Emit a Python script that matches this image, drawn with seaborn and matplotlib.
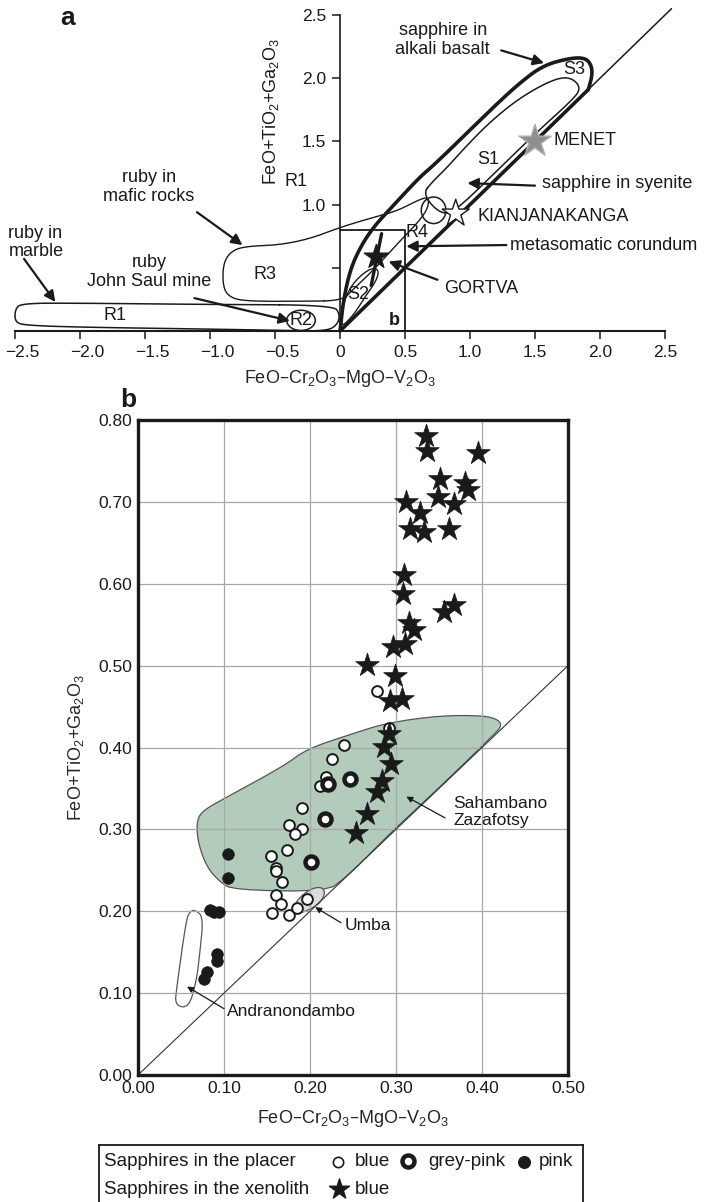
import numpy as np
import pandas as pd
import matplotlib
matplotlib.use("Agg")
import matplotlib.pyplot as plt
from matplotlib.patches import Ellipse, Polygon
from matplotlib.transforms import ScaledTranslation
import seaborn as sns

# ---- panel b data ----
star_x = [0.335, 0.336, 0.395, 0.351, 0.380, 0.384, 0.312, 0.349, 0.367, 0.328,
          0.316, 0.332, 0.362, 0.309, 0.308, 0.356, 0.367, 0.315, 0.321, 0.297,
          0.310, 0.266, 0.299, 0.293, 0.307, 0.292, 0.286, 0.294, 0.284, 0.278,
          0.266, 0.253]
star_y = [0.780, 0.762, 0.760, 0.728, 0.723, 0.714, 0.700, 0.706, 0.697, 0.686,
          0.667, 0.663, 0.667, 0.611, 0.587, 0.565, 0.574, 0.552, 0.543, 0.523,
          0.527, 0.501, 0.487, 0.457, 0.459, 0.416, 0.401, 0.380, 0.359, 0.346,
          0.319, 0.296]

blue_x = [0.278, 0.292, 0.239, 0.226, 0.219, 0.212, 0.191, 0.176, 0.191, 0.183,
          0.173, 0.155, 0.161, 0.161, 0.168, 0.160, 0.166, 0.156, 0.176, 0.185,
          0.197]
blue_y = [0.469, 0.424, 0.403, 0.386, 0.364, 0.353, 0.326, 0.305, 0.301, 0.294,
          0.275, 0.267, 0.253, 0.249, 0.236, 0.220, 0.209, 0.198, 0.195, 0.204,
          0.215]

greypink_x = [0.221, 0.247, 0.217, 0.201]
greypink_y = [0.356, 0.361, 0.313, 0.260]

pink_x = [0.105, 0.105, 0.084, 0.088, 0.094, 0.0915, 0.0915, 0.080, 0.077]
pink_y = [0.270, 0.241, 0.202, 0.199, 0.199, 0.148, 0.139, 0.126, 0.117]

# fields in panel b
sahambano_x = [0.068, 0.070, 0.080, 0.095, 0.111, 0.219, 0.240,
               0.262, 0.295, 0.335, 0.375, 0.412, 0.423, 0.419, 0.402, 0.351,
               0.289, 0.247, 0.196, 0.169, 0.099, 0.074]
sahambano_y = [0.308, 0.283, 0.254, 0.236, 0.226, 0.224, 0.240,
               0.262, 0.297, 0.336, 0.376, 0.414, 0.426, 0.434, 0.439, 0.439,
               0.430, 0.416, 0.398, 0.377, 0.337, 0.322]
umba_x = [0.179, 0.186, 0.200, 0.213, 0.218, 0.212, 0.198, 0.184]
umba_y = [0.201, 0.215, 0.227, 0.230, 0.223, 0.210, 0.201, 0.197]
andra_x = [0.066, 0.076, 0.072, 0.068, 0.059, 0.043, 0.045, 0.056, 0.060]
andra_y = [0.202, 0.193, 0.150, 0.115, 0.082, 0.085, 0.107, 0.189, 0.199]

# ---- panel a data ----
ref_names = ["GORTVA", "KIANJANAKANGA", "MENET"]
ref_x = [0.28, 0.89, 1.50]
ref_y = [0.585, 0.93, 1.50]
ref_face = ["#1a1a1a", "white", "#8f8f8f"]
ref_edge = ["#1a1a1a", "#1a1a1a", "#b0b0b0"]
ref_size = [330, 420, 600]

r1_field = [(-0.05, 0.205), (-1.0, 0.21), (-2.0, 0.22), (-2.45, 0.22), (-2.5, 0.17),
            (-2.5, 0.07), (-2.42, 0.045), (-2.0, 0.03), (-1.0, 0.015), (-0.4, 0.004),
            (-0.1, 0.0), (-0.02, 0.05), (0.0, 0.13)]
r3_field = [(0.02, 0.24), (-0.3, 0.235), (-0.7, 0.235), (-0.84, 0.26), (-0.9, 0.34),
            (-0.9, 0.53), (-0.84, 0.63), (-0.73, 0.67), (-0.47, 0.68), (-0.23, 0.73),
            (0.0, 0.82), (0.26, 0.90), (0.44, 0.95), (0.61, 1.04), (0.68, 1.06),
            (0.68, 0.98), (0.615, 0.876), (0.45, 0.70), (0.256, 0.48), (0.1, 0.33)]
s1_field = [(0.63, 1.08), (0.72, 1.19), (0.82, 1.29), (0.96, 1.45), (1.14, 1.64),
            (1.35, 1.82), (1.56, 1.95), (1.71, 2.01), (1.80, 1.99), (1.85, 1.92),
            (1.80, 1.84), (1.5, 1.56), (1.2, 1.26), (0.95, 1.01), (0.8, 0.90)]
s2_field = [(0.0, 0.02), (0.02, 0.2), (0.08, 0.35), (0.17, 0.45), (0.25, 0.5),
            (0.3, 0.48), (0.28, 0.40), (0.2, 0.28), (0.1, 0.12)]
s3_field = [(0.0, 0.0), (0.026, 0.24), (0.077, 0.48), (0.154, 0.66), (0.256, 0.82),
            (0.38, 0.96), (0.615, 1.22), (0.72, 1.31), (1.03, 1.62), (1.21, 1.80),
            (1.38, 1.96), (1.56, 2.10), (1.77, 2.16), (1.89, 2.16), (1.935, 2.10),
            (1.94, 2.02), (1.91, 1.91)]

region_labels = ["R1", "R2", "R3", "R4", "S1", "S2", "S3", "R1"]
region_x = [-1.73, -0.30, -0.58, 0.59, 1.14, 0.14, 1.80, -0.34]
region_y = [0.12, 0.084, 0.45, 0.78, 1.36, 0.29, 2.07, 1.18]

notes = ["sapphire in\nalkali basalt", "ruby in\nmafic rocks", "ruby in\nmarble",
         "ruby\nJohn Saul mine", "sapphire in syenite", "metasomatic corundum", "GORTVA"]
note_xy = [(0.79, 2.30), (-1.47, 1.14), (-2.55, 0.70), (-1.47, 0.47),
           (1.55, 1.17), (1.31, 0.676), (0.80, 0.334)]
note_ha = ["center", "center", "left", "center", "left", "left", "left"]
arrow_tail = [(1.24, 2.22), (-1.10, 0.94), (-2.43, 0.57), (-1.12, 0.26),
              (1.50, 1.15), (1.28, 0.68), (0.75, 0.405)]
arrow_head = [(1.57, 2.12), (-0.75, 0.68), (-2.19, 0.23), (-0.385, 0.08),
              (0.98, 1.17), (0.51, 0.67), (0.374, 0.55)]

a_xticks = [-2.5, -2.0, -1.5, -1.0, -0.5, 0, 0.5, 1.0, 1.5, 2.0, 2.5]
a_xlabels = ["\u22122.5", "\u22122.0", "\u22121.5", "\u22121.0", "\u22120.5", "0",
             "0.5", "1.0", "1.5", "2.0", "2.5"]
a_yticks = [0.5, 1.0, 1.5, 2.0, 2.5]
a_ylabels = ["", "1.0", "1.5", "2.0", "2.5"]
b_xticks = [0.0, 0.1, 0.2, 0.3, 0.4, 0.5]
b_yticks = [0.0, 0.1, 0.2, 0.3, 0.4, 0.5, 0.6, 0.7, 0.8]


def smooth(pts, closed=True, n=3):
    # chaikin corner cutting, only to round the hand-drawn outlines
    p = np.asarray(pts, float)
    for _ in range(n):
        if closed:
            nxt = np.roll(p, -1, axis=0)
            q, r = 0.75 * p + 0.25 * nxt, 0.25 * p + 0.75 * nxt
            p = np.empty((2 * len(q), 2))
            p[0::2], p[1::2] = q, r
        else:
            q, r = 0.75 * p[:-1] + 0.25 * p[1:], 0.25 * p[:-1] + 0.75 * p[1:]
            mid = np.empty((2 * len(q), 2))
            mid[0::2], mid[1::2] = q, r
            p = np.vstack([p[:1], mid, p[-1:]])
    return p


sns.set_theme(style="white")
plt.rcParams["font.family"] = ["Liberation Sans", "DejaVu Sans"]
plt.rcParams["mathtext.default"] = "regular"
plt.rcParams["text.color"] = "#1a1a1a"

fig = plt.figure(figsize=(7.06, 12.02), dpi=100)
fig.patch.set_facecolor("white")
W, H = 706.0, 1202.0

# ================= panel a =================
ax_a = fig.add_axes([15 / W, (H - 331) / H, 650 / W, 316 / H])
ax_a.set_facecolor("white")
ax_a.set_xlim(-2.5, 2.5)
ax_a.set_ylim(0, 2.5)

for pts, closed, lw in [(r1_field, True, 1.1), (r3_field, True, 1.0),
                        (s1_field, True, 1.1), (s2_field, True, 1.0),
                        (s3_field, False, 2.6)]:
    p = smooth(pts, closed=closed)
    if closed:
        p = np.vstack([p, p[:1]])
    ax_a.plot(p[:, 0], p[:, 1], color="#1a1a1a", lw=lw, clip_on=False)

ax_a.add_patch(Ellipse((-0.30, 0.084), 0.22, 0.16, fill=False, ec="#1a1a1a", lw=1.1))
ax_a.add_patch(Ellipse((0.72, 0.955), 0.19, 0.21, fill=False, ec="#1a1a1a", lw=1.1))

ax_a.plot([0, 1.91], [0, 1.91], color="#1a1a1a", lw=2.6)
ax_a.plot([1.91, 2.55], [1.91, 2.55], color="#1a1a1a", lw=1.1, clip_on=False)
ax_a.plot([0.32, 0.24], [0.77, 0.36], color="#1a1a1a", lw=2.4)
ax_a.plot([0, 0.5, 0.5, 0], [0.8, 0.8, 0, 0], color="#1a1a1a", lw=1.3)

sns.scatterplot(x=ref_x, y=ref_y, marker="*", s=ref_size, c=ref_face,
                edgecolor=ref_edge, linewidth=1.0, zorder=5, ax=ax_a, legend=False)
ax_a.text(1.64, 1.505, "MENET", fontsize=13, va="center", ha="left")
ax_a.text(1.06, 0.905, "KIANJANAKANGA", fontsize=13, va="center", ha="left")

for lab, x, y in zip(region_labels, region_x, region_y):
    ax_a.text(x, y, lab, fontsize=13, ha="center", va="center")
ax_a.text(0.42, 0.08, "b", fontsize=13, fontweight="bold", ha="center", va="center")

for txt, (tx, ty), ha, tail, head in zip(notes, note_xy, note_ha, arrow_tail, arrow_head):
    ax_a.text(tx, ty, txt, fontsize=13, ha=ha, va="center", linespacing=1.15)
    ax_a.annotate("", xy=head, xytext=tail,
                  arrowprops=dict(arrowstyle="-|>", color="#1a1a1a", lw=1.6,
                                  mutation_scale=16, shrinkA=0, shrinkB=0))

ax_a.spines["top"].set_visible(False)
ax_a.spines["right"].set_visible(False)
ax_a.spines["left"].set_position(("data", 0))
ax_a.spines["left"].set_linewidth(1.2)
ax_a.spines["bottom"].set_linewidth(1.5)
for s in ax_a.spines.values():
    s.set_color("#1a1a1a")
ax_a.set_xticks(a_xticks)
ax_a.set_xticklabels(a_xlabels)
ax_a.set_yticks(a_yticks)
ax_a.set_yticklabels(a_ylabels)
ax_a.tick_params(axis="both", direction="out", length=6, width=1.1, labelsize=12.5,
                 color="#1a1a1a", labelcolor="#1a1a1a", bottom=True, left=True, pad=4)
# the negative labels sit a little right of their ticks in the original
for lab in ax_a.get_xticklabels():
    if lab.get_text().startswith("\u2212"):
        lab.set_transform(lab.get_transform() + ScaledTranslation(0.07, 0, fig.dpi_scale_trans))
ax_a.set_xlabel("FeO\u2013Cr$_2$O$_3$\u2013MgO\u2013V$_2$O$_3$", fontsize=13, labelpad=6)
ax_a.text(-0.53, 1.74, "FeO+TiO$_2$+Ga$_2$O$_3$", fontsize=13, rotation=90,
          ha="center", va="center")
fig.text(68 / W, 1 - 18 / H, "a", fontsize=19, fontweight="bold", ha="center", va="center")

# ================= panel b =================
ax_b = fig.add_axes([138 / W, (H - 1075) / H, 430 / W, 655 / H])
ax_b.set_facecolor("white")
ax_b.set_xlim(0, 0.5)
ax_b.set_ylim(0, 0.8)
ax_b.set_axisbelow("line")
ax_b.grid(True, color="#a8a8a8", lw=0.9)

ax_b.add_patch(Polygon(smooth(list(zip(sahambano_x, sahambano_y)), n=2),
                       closed=True, fc="#b2cbbb", ec="#555555", lw=0.9, zorder=1))
ax_b.add_patch(Polygon(smooth(list(zip(umba_x, umba_y)), n=2),
                       closed=True, fc="#dcdcdc", ec="#555555", lw=0.9, zorder=1))
ax_b.add_patch(Polygon(smooth(list(zip(andra_x, andra_y)), n=2),
                       closed=True, fc="white", ec="#555555", lw=0.9, zorder=1))
ax_b.plot([0, 0.5], [0, 0.5], color="#333333", lw=0.8, zorder=2)

sns.scatterplot(x=blue_x, y=blue_y, marker="o", s=60, color="white",
                edgecolor="#1a1a1a", linewidth=1.4, zorder=3, ax=ax_b)
sns.scatterplot(x=greypink_x, y=greypink_y, marker="o", s=75, color="white",
                edgecolor="#1a1a1a", linewidth=3.2, zorder=4, ax=ax_b)
sns.scatterplot(x=pink_x, y=pink_y, marker="o", s=70, color="#1a1a1a",
                edgecolor="#1a1a1a", linewidth=0.5, zorder=4, ax=ax_b)
sns.scatterplot(x=star_x, y=star_y, marker="*", s=320, color="#1a1a1a",
                edgecolor="#1a1a1a", linewidth=0.5, zorder=5, ax=ax_b)

ax_b.text(0.367, 0.321, "Sahambano\nZazafotsy", fontsize=12.5, ha="left", va="center",
          linespacing=1.15)
ax_b.annotate("", xy=(0.312, 0.340), xytext=(0.357, 0.314),
              arrowprops=dict(arrowstyle="-|>", color="#1a1a1a", lw=0.9,
                              mutation_scale=9, shrinkA=0, shrinkB=0))
ax_b.text(0.240, 0.183, "Umba", fontsize=12.5, ha="left", va="center")
ax_b.annotate("", xy=(0.206, 0.205), xytext=(0.236, 0.186),
              arrowprops=dict(arrowstyle="-|>", color="#1a1a1a", lw=0.9,
                              mutation_scale=9, shrinkA=0, shrinkB=0))
ax_b.text(0.103, 0.078, "Andranondambo", fontsize=12.5, ha="left", va="center")
ax_b.annotate("", xy=(0.057, 0.108), xytext=(0.100, 0.081),
              arrowprops=dict(arrowstyle="-|>", color="#1a1a1a", lw=0.9,
                              mutation_scale=9, shrinkA=0, shrinkB=0))

for s in ax_b.spines.values():
    s.set_visible(True)
    s.set_color("#1a1a1a")
    s.set_linewidth(2.4)
ax_b.set_xticks(b_xticks)
ax_b.set_xticklabels([f"{v:.2f}" for v in b_xticks])
ax_b.set_yticks(b_yticks)
ax_b.set_yticklabels([f"{v:.2f}" for v in b_yticks])
ax_b.tick_params(axis="both", length=0, labelsize=12.5, labelcolor="#1a1a1a", pad=4)
ax_b.set_xlabel("FeO\u2013Cr$_2$O$_3$\u2013MgO\u2013V$_2$O$_3$", fontsize=13, labelpad=9)
ax_b.set_ylabel("FeO+TiO$_2$+Ga$_2$O$_3$", fontsize=13, labelpad=9)
fig.text(128 / W, 1 - 400 / H, "b", fontsize=19, fontweight="bold", ha="center", va="center")

# ================= legend box =================
leg_rows = ["Sapphires in the placer", "Sapphires in the xenolith"]
ax_l = fig.add_axes([99 / W, (H - 1207) / H, 484 / W, 62 / H])
ax_l.set_xlim(99, 583)
ax_l.set_ylim(1207, 1145)
ax_l.set_xticks([])
ax_l.set_yticks([])
ax_l.set_facecolor("white")
for s in ax_l.spines.values():
    s.set_color("#1a1a1a")
    s.set_linewidth(1.3)
ax_l.text(104, 1162, leg_rows[0], fontsize=13.5, va="center", ha="left")
ax_l.text(104, 1190, leg_rows[1], fontsize=13.5, va="center", ha="left")
ax_l.scatter([338], [1162], marker="o", s=55, c="white", edgecolors="#1a1a1a", linewidths=1.2)
ax_l.text(355, 1162, "blue", fontsize=13.5, va="center", ha="left")
ax_l.scatter([408], [1161], marker="o", s=75, c="white", edgecolors="#1a1a1a", linewidths=3.2)
ax_l.text(428, 1162, "grey-pink", fontsize=13.5, va="center", ha="left")
ax_l.scatter([524], [1162], marker="o", s=70, c="#1a1a1a")
ax_l.text(539, 1162, "pink", fontsize=13.5, va="center", ha="left")
ax_l.scatter([339], [1189], marker="*", s=230, c="#1a1a1a")
ax_l.text(355, 1190, "blue", fontsize=13.5, va="center", ha="left")

fig.savefig("out.png", dpi=100, facecolor="white")
